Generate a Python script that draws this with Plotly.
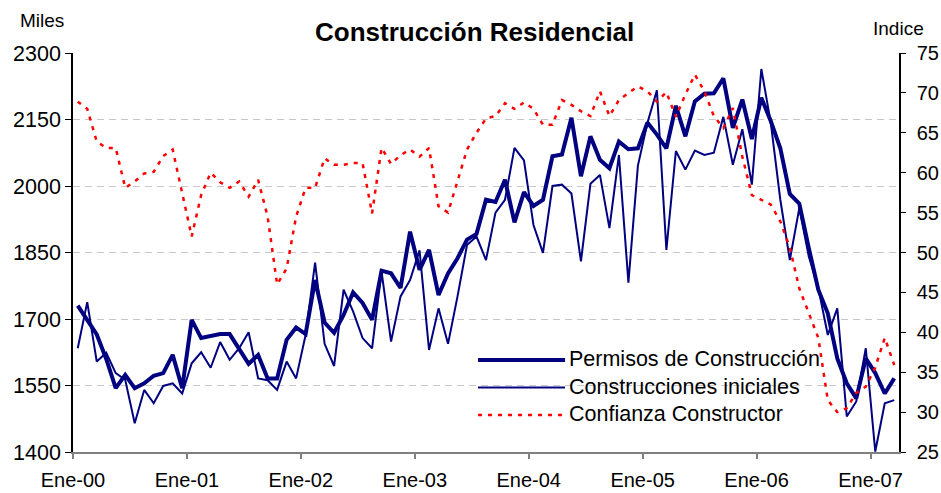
import plotly.graph_objects as go

# ---- data (monthly, Ene-00 .. Mar-07) ----
permisos = [1730, 1698, 1665, 1610, 1544, 1574, 1544, 1555, 1572, 1578, 1619, 1544,
            1698, 1657, 1661, 1666, 1666, 1634, 1599, 1619, 1566, 1566, 1653, 1681,
            1666, 1788, 1692, 1669, 1709, 1760, 1736, 1698, 1809, 1803, 1770, 1897,
            1811, 1856, 1754, 1803, 1837, 1879, 1892, 1969, 1964, 2014, 1918, 1986,
            1955, 1969, 2067, 2071, 2154, 2022, 2112, 2059, 2040, 2100, 2083, 2085,
            2143, 2116, 2085, 2181, 2112, 2191, 2208, 2209, 2243, 2131, 2195, 2106,
            2199, 2146, 2085, 1982, 1960, 1860, 1766, 1713, 1611, 1555, 1521, 1611,
            1578, 1532, 1566]

construcciones = [1634, 1738, 1604, 1624, 1578, 1563, 1465, 1540, 1510, 1549, 1555, 1532,
                  1600, 1625, 1590, 1648, 1608, 1634, 1670, 1566, 1562, 1540, 1604, 1566,
                  1664, 1827, 1644, 1594, 1766, 1717, 1657, 1634, 1807, 1649, 1751, 1788,
                  1855, 1630, 1724, 1644, 1751, 1867, 1886, 1833, 1940, 1969, 2086, 2058,
                  1912, 1849, 2000, 2003, 1983, 1830, 2005, 2025, 1905, 2070, 1782, 2046,
                  2142, 2216, 1856, 2079, 2037, 2080, 2070, 2075, 2156, 2048, 2128, 2003,
                  2264, 2142, 1969, 1833, 1950, 1841, 1770, 1664, 1724, 1480, 1514, 1634,
                  1401, 1510, 1517]

confianza = [68.9, 68.0, 63.9, 63.1, 63.1, 58.1, 58.9, 59.9, 60.1, 62.1, 62.9, 57.5,
             52.0, 57.2, 60.0, 58.8, 58.1, 58.9, 57.0, 59.1, 54.5, 46.0, 48.0, 54.5,
             58.1, 58.1, 61.8, 61.0, 61.0, 61.2, 61.2, 54.9, 63.1, 61.1, 62.2, 62.9,
             62.0, 63.1, 55.8, 55.0, 59.1, 62.9, 65.0, 66.8, 67.1, 68.7, 68.0, 68.8,
             68.0, 66.0, 66.0, 69.1, 68.5, 67.7, 67.1, 70.2, 67.1, 69.1, 70.0, 70.8,
             70.2, 68.9, 70.1, 67.0, 69.8, 72.3, 70.2, 67.1, 65.6, 68.1, 62.0, 57.2,
             56.6, 56.0, 53.9, 50.6, 45.5, 42.4, 39.3, 31.5, 30.0, 30.5, 32.4, 33.2,
             35.6, 39.3, 35.9]

tick_labels = ["Ene-00", "Ene-01", "Ene-02", "Ene-03", "Ene-04", "Ene-05", "Ene-06", "Ene-07"]
left_ticks = [1400, 1550, 1700, 1850, 2000, 2150, 2300]
right_ticks = [25, 30, 35, 40, 45, 50, 55, 60, 65, 70, 75]
series_names = ["Permisos de Construcción", "Construcciones iniciales", "Confianza Constructor"]

# month positions: each point sits in the middle of its month slot
xpos = [i + 0.5 for i in range(len(permisos))]
tick_pos = [12 * k for k in range(len(tick_labels))]

NAVY = "#000080"
RED = "#FF0000"
FONT = "Liberation Sans, Arial, sans-serif"
RED_DASH = "4px,6px"

fig = go.Figure()
fig.add_trace(go.Scatter(x=xpos, y=permisos, mode="lines", name=series_names[0],
                         line=dict(color=NAVY, width=4), showlegend=False))
fig.add_trace(go.Scatter(x=xpos, y=construcciones, mode="lines", name=series_names[1],
                         line=dict(color=NAVY, width=2), showlegend=False))
fig.add_trace(go.Scatter(x=xpos, y=confianza, mode="lines", name=series_names[2], yaxis="y2",
                         line=dict(color=RED, width=2.5, dash=RED_DASH), showlegend=False))

# plot area geometry (pixels) for paper conversions
W, H = 941, 493
L, R, T, B = 73, 42, 53, 41
pw, ph = W - L - R, H - T - B


def px(x):
    return (x - L) / pw


def py(y):
    return (H - B - y) / ph


shapes = []
annotations = []

# manual legend
shapes.append(dict(type="rect", xref="paper", yref="paper", x0=px(474), x1=px(835),
                   y0=py(428), y1=py(342), fillcolor="white", line=dict(width=0), layer="between"))
legend_rows = [(360, dict(color=NAVY, width=4)),
               (387.5, dict(color=NAVY, width=2)),
               (415, dict(color=RED, width=2.5, dash=RED_DASH))]
for (yy, ln), name in zip(legend_rows, series_names):
    shapes.append(dict(type="line", xref="paper", yref="paper", x0=px(478), x1=px(565),
                       y0=py(yy), y1=py(yy), line=ln))
    annotations.append(dict(xref="paper", yref="paper", x=px(567), y=py(yy - 1), text=name,
                            showarrow=False, xanchor="left", yanchor="middle",
                            font=dict(family=FONT, size=21.5, color="black")))

annotations.append(dict(xref="paper", yref="paper", x=px(474), y=py(32),
                        text="<b>Construcción Residencial</b>", showarrow=False,
                        xanchor="center", yanchor="middle",
                        font=dict(family=FONT, size=26, color="black")))
annotations.append(dict(xref="paper", yref="paper", x=px(42), y=py(20), text="Miles",
                        showarrow=False, xanchor="center", yanchor="middle",
                        font=dict(family=FONT, size=19, color="black")))
annotations.append(dict(xref="paper", yref="paper", x=px(898), y=py(28), text="Indice",
                        showarrow=False, xanchor="center", yanchor="middle",
                        font=dict(family=FONT, size=19, color="black")))

fig.update_layout(
    width=W, height=H, autosize=False,
    margin=dict(l=L, r=R, t=T, b=B, pad=0),
    paper_bgcolor="white", plot_bgcolor="white",
    font=dict(family=FONT, size=20, color="black"),
    showlegend=False,
    shapes=shapes,
    annotations=annotations,
    xaxis=dict(range=[0, 87], tickmode="array", tickvals=tick_pos, ticktext=tick_labels,
               ticks="outside", ticklen=5, tickcolor="#808080", tickwidth=1.5,
               showline=True, linecolor="#808080", linewidth=2,
               showgrid=False, zeroline=False, ticklabelstandoff=4, automargin=False,
               tickfont=dict(family=FONT, size=20, color="black")),
    yaxis=dict(range=[1400, 2300], tickmode="array", tickvals=left_ticks,
               ticks="outside", ticklen=6, tickcolor="black",
               showline=True, linecolor="black", linewidth=1.5,
               showgrid=True, gridcolor="#C8C8C8", gridwidth=1.3, griddash="7px,5px",
               zeroline=False, ticklabelstandoff=0, automargin=False,
               tickfont=dict(family=FONT, size=21.5, color="black")),
    yaxis2=dict(range=[25, 75], tickmode="array", tickvals=right_ticks,
                overlaying="y", side="right", anchor="x",
                ticks="outside", ticklen=5, tickcolor="black",
                showline=True, linecolor="black", linewidth=1.5,
                showgrid=False, zeroline=False, ticklabelstandoff=7, automargin=False,
                tickfont=dict(family=FONT, size=20, color="black")),
    yaxis3=dict(range=[25, 75], tickmode="array", tickvals=right_ticks,
                overlaying="y", side="right", anchor="x",
                ticks="inside", ticklen=5, tickcolor="black", automargin=False,
                showline=False, showgrid=False, zeroline=False, showticklabels=False),
)

post = ("document.body.style.margin='0px';"
        "var gd=document.getElementById('{plot_id}');"
        "Plotly.relayout(gd,{width:941,height:493});")

fig.write_html("out.html", config={"responsive": False, "displayModeBar": False},
               post_script=post)
